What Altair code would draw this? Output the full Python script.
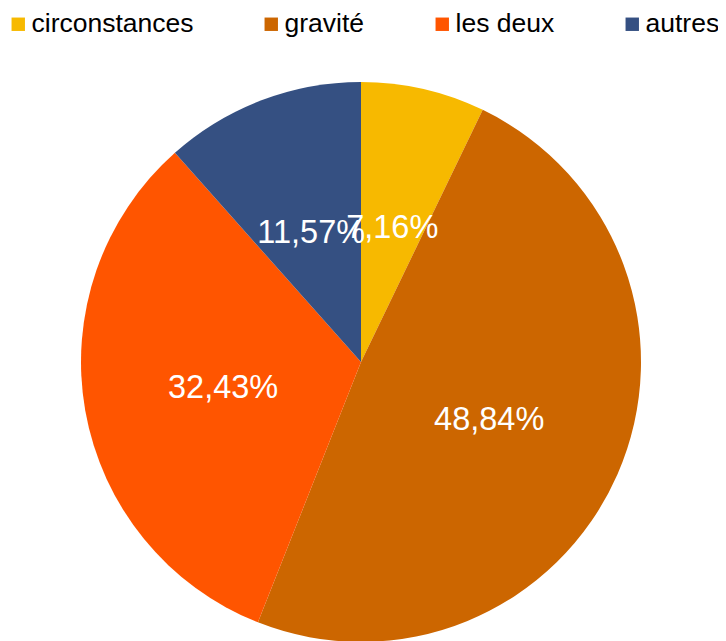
import altair as alt
import pandas as pd

categories = ["circonstances", "gravité", "les deux", "autres"]
values = [7.16, 48.84, 32.43, 11.57]
colors = ["#F7B900", "#CC6600", "#FF5500", "#355082"]

df = pd.DataFrame({
    "cat": categories,
    "value": values,
    "order": list(range(len(categories))),
    "label": [f"{v:.2f}".replace(".", ",") + "%" for v in values],
})

FONT = "Liberation Sans"

base = alt.Chart(df).encode(
    theta=alt.Theta("value:Q", stack=True),
    order=alt.Order("order:Q"),
)

pie = base.mark_arc(outerRadius=280, x=353, y=354).encode(
    color=alt.Color(
        "cat:N",
        scale=alt.Scale(domain=categories, range=colors),
        sort=categories,
        legend=alt.Legend(
            title=None,
            orient="none",
            legendX=-3,
            legendY=3,
            direction="horizontal",
            columns=4,
            columnPadding=64,
            gridAlign="none",
            symbolType="square",
            symbolSize=180,
            symbolStrokeWidth=0,
            symbolOffset=0,
            labelFont=FONT,
            labelFontSize=26.5,
            labelColor="#000000",
            labelOffset=0,
            labelLimit=0,
            padding=0,
        ),
    )
)

text = base.mark_text(
    radius=140, x=353, y=356, font=FONT, fontSize=32.5, color="white",
    align="center", baseline="middle",
).encode(text="label:N")

chart = alt.layer(pie, text).properties(
    width=710, height=640, padding=0,
    autosize=alt.AutoSizeParams(type="none"),
).configure_view(stroke=None)

chart.save("out.html", embed_options={"renderer": "svg", "actions": False})
